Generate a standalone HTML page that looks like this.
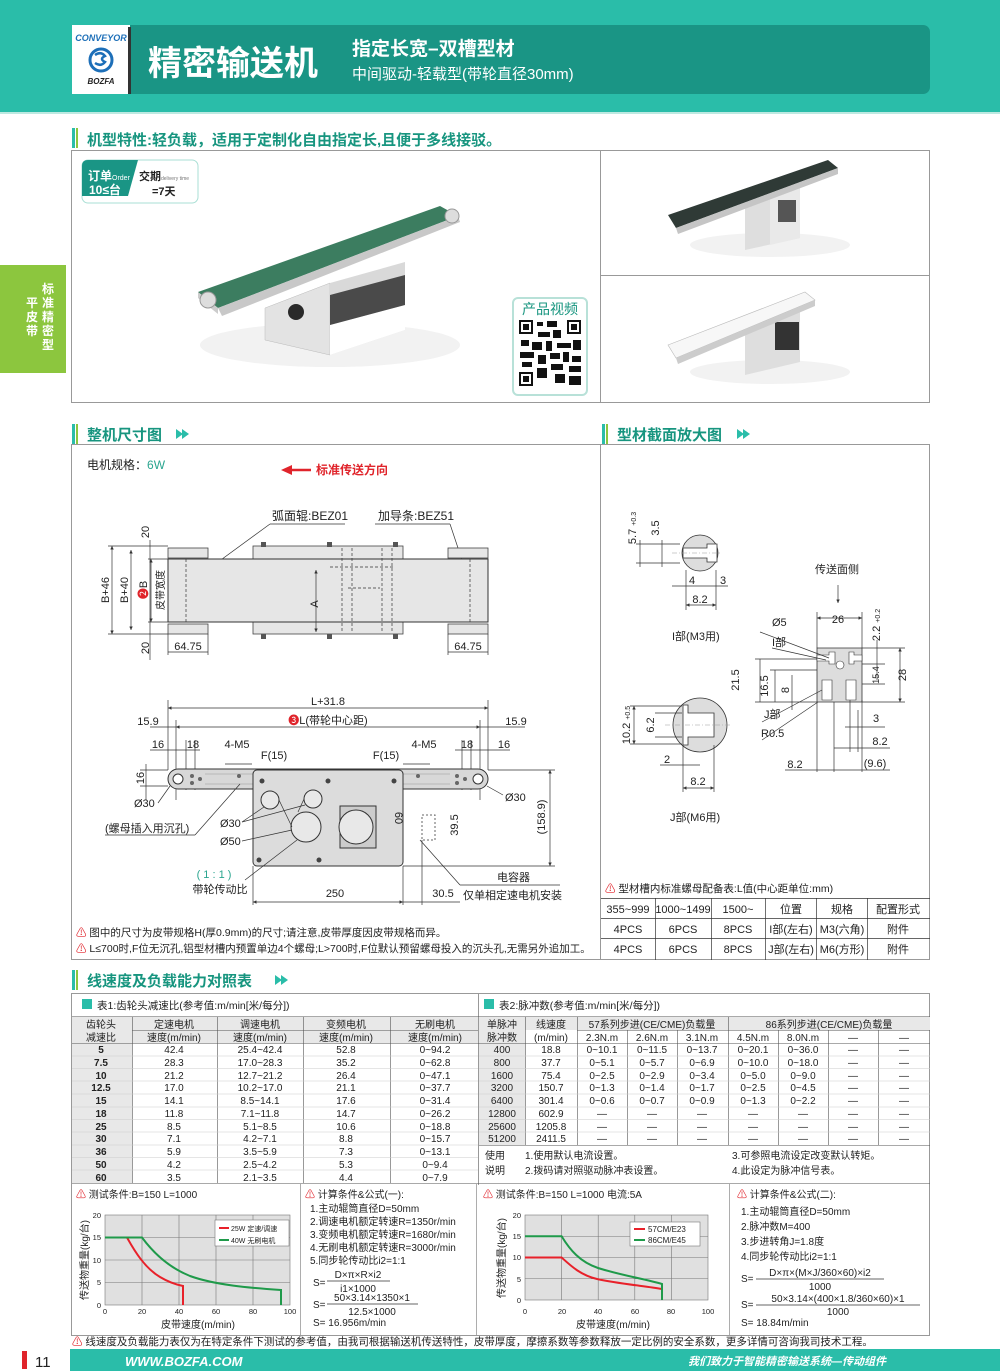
<!DOCTYPE html>
<html><head><meta charset="utf-8"><style>
html,body{margin:0;padding:0;background:#fff}
svg{display:block}
text{font-family:"Liberation Sans","Noto Sans CJK SC",sans-serif;fill:#222}
.d{font-size:11px}
.t{font-size:10px}
.c{text-anchor:middle}
.ln{stroke:#333;stroke-width:.7;fill:none}
.g{stroke:#999;stroke-width:.6;fill:none}
.h{font-size:15px;font-weight:bold;fill:#17957f}
</style></head><body>
<svg width="1000" height="1371" viewBox="0 0 1000 1371" xmlns="http://www.w3.org/2000/svg">
<defs>
<marker id="a" viewBox="0 0 6 6" refX="6" refY="3" markerWidth="5" markerHeight="5" orient="auto-start-reverse"><path d="M0,0L6,3L0,6z" fill="#333"/></marker>
</defs>
<!-- header -->
<rect x="0" y="0" width="1000" height="112" fill="#2abda9"/>
<rect x="0" y="112" width="1000" height="2" fill="#bde9e1"/>
<rect x="72" y="25" width="858" height="69" rx="7" fill="#1a9585"/>
<rect x="72" y="25" width="58" height="69" fill="#fff"/>
<rect x="128" y="27" width="3" height="67" fill="#333"/>
<text x="101" y="41" class="c" style="font-size:9px;font-weight:bold;font-style:italic;fill:#1d6fb8">CONVEYOR</text>
<circle cx="101" cy="60" r="11" fill="none" stroke="#1d6fb8" stroke-width="3"/>
<path d="M95,55 q6,-4 10,1 q-6,3 0,6 q-4,5 -10,1" fill="none" stroke="#1d6fb8" stroke-width="2.5"/>
<text x="101" y="84" class="c" style="font-size:8px;font-weight:bold;font-style:italic;fill:#222">BOZFA</text>
<text x="148" y="75" style="font-size:34px;font-weight:bold;fill:#fff">精密输送机</text>
<text x="352" y="55" style="font-size:19px;font-weight:bold;fill:#fff">指定长宽–双槽型材</text>
<text x="352" y="79" style="font-size:15px;fill:#fff">中间驱动-轻载型(带轮直径30mm)</text>
<!-- side tab -->
<rect x="0" y="265" width="66" height="108" fill="#8cc63e"/>
<text x="48" y="293" class="c" style="font-size:12px;font-weight:bold;fill:#fff">标</text>
<text x="48" y="307" class="c" style="font-size:12px;font-weight:bold;fill:#fff">准</text>
<text x="48" y="321" class="c" style="font-size:12px;font-weight:bold;fill:#fff">精</text>
<text x="48" y="335" class="c" style="font-size:12px;font-weight:bold;fill:#fff">密</text>
<text x="48" y="349" class="c" style="font-size:12px;font-weight:bold;fill:#fff">型</text>
<text x="32" y="307" class="c" style="font-size:12px;font-weight:bold;fill:#fff">平</text>
<text x="32" y="321" class="c" style="font-size:12px;font-weight:bold;fill:#fff">皮</text>
<text x="32" y="335" class="c" style="font-size:12px;font-weight:bold;fill:#fff">带</text>
<!-- section 1 -->
<rect x="72" y="128" width="3" height="20" fill="#2abda9"/><rect x="76" y="128" width="2" height="20" fill="#8cc63e"/>
<text x="87" y="145" class="h">机型特性:轻负载，适用于定制化自由指定长,且便于多线接驳。</text>
<rect x="71.5" y="150.5" width="858" height="252" fill="#fff" stroke="#999"/>
<line x1="600.5" y1="150" x2="600.5" y2="402" stroke="#999"/>
<line x1="600" y1="275.5" x2="930" y2="275.5" stroke="#999"/>
<!-- badge -->
<rect x="82" y="160" width="116" height="43" rx="6" fill="#fff" stroke="#aadfd5"/>
<path d="M82,166 q0,-6 6,-6 h50 l-10,36 h-46z" fill="#1a9585"/>
<text x="88" y="180" style="font-size:12px;font-weight:bold;fill:#fff">订单<tspan style="font-size:7px;font-weight:normal">Order</tspan></text>
<text x="89" y="194" style="font-size:12px;font-weight:bold;fill:#fff">10≤台</text>
<text x="139" y="180" style="font-size:11px;font-weight:bold">交期<tspan style="font-size:5px;font-weight:normal;fill:#777">delivery time</tspan></text>
<text x="152" y="195" style="font-size:11px;font-weight:bold">=7天</text>
<!-- main product -->
<ellipse cx="330" cy="345" rx="130" ry="22" fill="#f2f2f2"/>
<polygon points="265,308 330,283 330,355 265,340" fill="#e3e3e3" stroke="#bbb" stroke-width=".5"/>
<polygon points="330,283 405,262 405,330 330,355" fill="#d9d9d9"/>
<polygon points="330,325 405,305 405,330 330,355" fill="#fff"/>
<polygon points="330,295 405,275 405,305 330,325" fill="#4a4a4a"/>
<circle cx="296" cy="312" r="8" fill="#2a2a2a"/>
<polygon points="198,292 440,206 458,216 218,308" fill="#3c7d60"/>
<polygon points="198,292 218,308 218,314 198,298" fill="#ccc"/>
<polygon points="218,308 458,216 460,222 222,316" fill="#c8c8c8"/>
<circle cx="208" cy="300" r="8" fill="#ddd" stroke="#999"/><circle cx="452" cy="216" r="7" fill="#ddd" stroke="#999"/>
<!-- QR -->
<rect x="513" y="298" width="74" height="97" rx="5" fill="#fff" stroke="#b8e1d8" stroke-width="2"/>
<text x="550" y="314" class="c" style="font-size:14px;fill:#17957f">产品视频</text>
<rect x="519" y="320" width="62" height="66" fill="#fff"/>
<g fill="#111">
<rect x="519" y="320" width="14" height="14"/><rect x="567" y="320" width="14" height="14"/><rect x="519" y="372" width="14" height="14"/>
<rect x="537" y="322" width="6" height="4"/><rect x="547" y="321" width="10" height="6"/><rect x="538" y="332" width="12" height="5"/><rect x="553" y="330" width="8" height="8"/>
<rect x="521" y="340" width="8" height="6"/><rect x="532" y="342" width="10" height="8"/><rect x="546" y="341" width="6" height="10"/><rect x="557" y="343" width="14" height="5"/><rect x="573" y="340" width="8" height="10"/>
<rect x="520" y="352" width="14" height="6"/><rect x="538" y="355" width="8" height="9"/><rect x="550" y="353" width="10" height="6"/><rect x="563" y="352" width="6" height="10"/><rect x="572" y="356" width="9" height="6"/>
<rect x="522" y="362" width="10" height="5"/><rect x="537" y="368" width="10" height="10"/><rect x="551" y="364" width="12" height="6"/><rect x="555" y="374" width="10" height="9"/><rect x="569" y="366" width="12" height="6"/><rect x="569" y="376" width="12" height="9"/>
</g>
<g fill="#fff"><rect x="521" y="322" width="10" height="10"/><rect x="569" y="322" width="10" height="10"/><rect x="521" y="374" width="10" height="10"/></g>
<g fill="#111"><rect x="523" y="324" width="6" height="6"/><rect x="571" y="324" width="6" height="6"/><rect x="523" y="376" width="6" height="6"/></g>
<!-- right images -->
<ellipse cx="770" cy="245" rx="80" ry="12" fill="#f2f2f2"/>
<polygon points="745,195 800,180 800,238 745,250" fill="#dedede"/>
<polygon points="770,188 800,180 800,238 770,245" fill="#e9e9e9"/>
<rect x="778" y="200" width="18" height="22" fill="#555"/>
<polygon points="668,215 828,160 838,168 676,228" fill="#2f3a36"/>
<polygon points="676,228 838,168 838,174 678,234" fill="#c5c5c5"/>
<ellipse cx="770" cy="372" rx="80" ry="12" fill="#f2f2f2"/>
<polygon points="745,318 800,300 800,362 745,375" fill="#dedede"/>
<rect x="775" y="322" width="24" height="28" fill="#333"/>
<polygon points="668,345 805,292 815,300 676,358" fill="#f7f7f7" stroke="#bbb" stroke-width=".6"/>
<polygon points="676,358 815,300 815,306 678,364" fill="#ccc"/>

<!-- section 2 -->
<rect x="72" y="424" width="3" height="20" fill="#2abda9"/><rect x="76" y="424" width="2" height="20" fill="#8cc63e"/>
<text x="87" y="440" class="h">整机尺寸图</text>
<polygon points="176,429 183,434 176,439" fill="#2abda9"/><polygon points="182,429 189,434 182,439" fill="#2abda9"/>
<rect x="602" y="424" width="3" height="20" fill="#2abda9"/><rect x="606" y="424" width="2" height="20" fill="#8cc63e"/>
<text x="617" y="440" class="h">型材截面放大图</text>
<polygon points="737,429 744,434 737,439" fill="#2abda9"/><polygon points="743,429 750,434 743,439" fill="#2abda9"/>
<rect x="71.5" y="444.5" width="858" height="515" fill="none" stroke="#999"/>
<line x1="600.5" y1="444" x2="600.5" y2="960" stroke="#999"/>

<text x="87" y="469" style="font-size:12px">电机规格：<tspan style="fill:#2aa58f">6W</tspan></text>
<line x1="290" y1="470" x2="311" y2="470" stroke="#e0242b" stroke-width="2.5"/><polygon points="281,470 292,465 292,475" fill="#e0242b"/>
<text x="316" y="474" style="font-size:12px;font-weight:bold;fill:#e0242b">标准传送方向</text>
<!-- top view -->
<text x="272" y="520" style="font-size:12px">弧面辊:BEZ01</text><line x1="270" y1="524" x2="345" y2="524" class="ln"/><line x1="270" y1="524" x2="188" y2="584" class="ln"/>
<text x="378" y="520" style="font-size:12px">加导条:BEZ51</text><line x1="375" y1="524" x2="450" y2="524" class="ln"/><line x1="450" y1="524" x2="472" y2="590" class="ln"/>
<rect x="168" y="548" width="40" height="10" fill="#e6e6e6" stroke="#444" stroke-width=".8"/>
<rect x="448" y="548" width="40" height="10" fill="#e6e6e6" stroke="#444" stroke-width=".8"/>
<rect x="168" y="624" width="40" height="10" fill="#e6e6e6" stroke="#444" stroke-width=".8"/>
<rect x="448" y="624" width="40" height="10" fill="#e6e6e6" stroke="#444" stroke-width=".8"/>
<rect x="253" y="546" width="150" height="13" fill="#e6e6e6" stroke="#444" stroke-width=".8"/>
<rect x="253" y="622" width="150" height="12" fill="#e6e6e6" stroke="#444" stroke-width=".8"/>
<rect x="168" y="559" width="320" height="63" fill="#e6e6e6" stroke="#333" stroke-width="1"/>
<line x1="186" y1="559" x2="186" y2="622" class="ln" stroke-dasharray="3,2"/><line x1="470" y1="559" x2="470" y2="622" class="ln" stroke-dasharray="3,2"/>
<g class="ln" stroke-dasharray="3,2"><line x1="342" y1="548" x2="342" y2="632"/><line x1="352" y1="548" x2="352" y2="632"/><line x1="382" y1="548" x2="382" y2="632"/><line x1="392" y1="548" x2="392" y2="632"/><line x1="330" y1="567" x2="395" y2="567"/><line x1="348" y1="588" x2="380" y2="588"/></g>
<g fill="#555"><rect x="261" y="542" width="5" height="5"/><rect x="327" y="542" width="5" height="5"/><rect x="393" y="542" width="5" height="5"/><rect x="261" y="634" width="5" height="5"/><rect x="327" y="634" width="5" height="5"/><rect x="393" y="634" width="5" height="5"/></g>
<line x1="316" y1="570" x2="316" y2="632" class="ln" marker-start="url(#a)" marker-end="url(#a)"/>
<text transform="translate(318,604) rotate(-90)" class="d c">A</text>
<g class="ln"><line x1="112" y1="546" x2="112" y2="634" marker-start="url(#a)" marker-end="url(#a)"/><line x1="131" y1="550" x2="131" y2="630" marker-start="url(#a)" marker-end="url(#a)"/><line x1="151" y1="559" x2="151" y2="622" marker-start="url(#a)" marker-end="url(#a)"/>
<line x1="108" y1="546" x2="168" y2="546"/><line x1="108" y1="634" x2="168" y2="634"/><line x1="150" y1="540" x2="150" y2="660"/><line x1="148" y1="559" x2="168" y2="559"/><line x1="148" y1="622" x2="168" y2="622"/></g>
<text transform="translate(112,590) rotate(-90)" class="d c" dy="-3">B+46</text>
<text transform="translate(131,590) rotate(-90)" class="d c" dy="-3">B+40</text>
<text transform="translate(150,590) rotate(-90)" class="d c" dy="-3"><tspan style="fill:#e0242b">❷</tspan>B</text>
<text transform="translate(164,590) rotate(-90)" class="c" style="font-size:10px">皮带宽度</text>
<text transform="translate(149,532) rotate(-90)" class="d c">20</text>
<text transform="translate(149,648) rotate(-90)" class="d c">20</text>
<g class="ln"><line x1="168" y1="634" x2="168" y2="655"/><line x1="208" y1="634" x2="208" y2="655"/><line x1="448" y1="634" x2="448" y2="655"/><line x1="488" y1="634" x2="488" y2="655"/><line x1="168" y1="652" x2="208" y2="652"/><line x1="448" y1="652" x2="488" y2="652"/></g>
<text x="188" y="650" class="d c">64.75</text><text x="468" y="650" class="d c">64.75</text>
<!-- side view -->
<g class="ln"><line x1="168" y1="708" x2="488" y2="708" marker-start="url(#a)" marker-end="url(#a)"/><line x1="176" y1="727" x2="480" y2="727" marker-start="url(#a)" marker-end="url(#a)"/>
<line x1="168" y1="700" x2="168" y2="770"/><line x1="488" y1="700" x2="488" y2="770"/><line x1="176" y1="720" x2="176" y2="800"/><line x1="480" y1="720" x2="480" y2="800"/>
<line x1="150" y1="727" x2="176" y2="727"/><line x1="480" y1="727" x2="525" y2="727"/>
<line x1="150" y1="750" x2="200" y2="750"/><line x1="186" y1="740" x2="186" y2="790"/><line x1="195" y1="740" x2="195" y2="790"/>
<line x1="455" y1="750" x2="510" y2="750"/><line x1="462" y1="740" x2="462" y2="790"/><line x1="471" y1="740" x2="471" y2="790"/>
<line x1="225" y1="764" x2="252" y2="764"/><line x1="403" y1="764" x2="430" y2="764"/>
<line x1="146" y1="764" x2="146" y2="800"/><line x1="140" y1="770" x2="168" y2="770"/><line x1="140" y1="786" x2="168" y2="786"/>
<line x1="488" y1="770" x2="555" y2="770"/><line x1="403" y1="866" x2="555" y2="866"/><line x1="550" y1="770" x2="550" y2="866" marker-start="url(#a)" marker-end="url(#a)"/>
<line x1="253" y1="866" x2="253" y2="905"/><line x1="403" y1="866" x2="403" y2="905"/><line x1="422" y1="840" x2="422" y2="905"/><line x1="253" y1="902" x2="403" y2="902" marker-start="url(#a)" marker-end="url(#a)"/><line x1="403" y1="902" x2="460" y2="902"/>
</g>
<text x="328" y="705" class="d c">L+31.8</text>
<text x="328" y="724" class="d c"><tspan style="fill:#e0242b">❸</tspan>L(带轮中心距)</text>
<text x="148" y="725" class="d c">15.9</text><text x="516" y="725" class="d c">15.9</text>
<text x="158" y="748" class="d c">16</text><text x="193" y="748" class="d c">18</text><text x="237" y="748" class="d c">4-M5</text>
<text x="274" y="759" class="d c">F(15)</text><text x="386" y="759" class="d c">F(15)</text>
<text x="424" y="748" class="d c">4-M5</text><text x="467" y="748" class="d c">18</text><text x="504" y="748" class="d c">16</text>
<rect x="168" y="769" width="320" height="20" rx="10" fill="#d8d8d8" stroke="#333"/>
<line x1="205" y1="774" x2="450" y2="774" class="g"/><line x1="205" y1="784" x2="450" y2="784" class="g"/>
<circle cx="178" cy="779" r="5" fill="#fff" stroke="#333"/><circle cx="478" cy="779" r="5" fill="#fff" stroke="#333"/>
<g fill="#666"><circle cx="192" cy="776" r="2"/><circle cx="192" cy="783" r="2"/><circle cx="200" cy="779" r="2"/><circle cx="457" cy="776" r="2"/><circle cx="457" cy="783" r="2"/><circle cx="465" cy="779" r="2"/><circle cx="239" cy="776" r="2"/><circle cx="418" cy="776" r="2"/></g>
<rect x="253" y="770" width="150" height="96" rx="4" fill="#dcdcdc" stroke="#333"/>
<g fill="#444"><circle cx="262" cy="781" r="2.5"/><circle cx="328" cy="781" r="2.5"/><circle cx="394" cy="781" r="2.5"/><circle cx="259" cy="860" r="2.5"/><circle cx="319" cy="860" r="2.5"/></g>
<circle cx="270" cy="800" r="9" fill="#e8e8e8" stroke="#333"/><circle cx="313" cy="799" r="9" fill="#e8e8e8" stroke="#333"/>
<circle cx="306" cy="827" r="15" fill="#e8e8e8" stroke="#333"/>
<rect x="340" y="806" width="36" height="42" fill="#ccc" stroke="#333"/><circle cx="356" cy="827" r="17" fill="#e8e8e8" stroke="#333"/>
<path d="M279,800 L292,827 M304,799 L298,812" class="ln"/>
<rect x="422" y="815" width="13" height="25" fill="none" stroke="#666" stroke-dasharray="2,2"/>
<text transform="translate(395,818) rotate(90)" class="d c">60</text>
<text transform="translate(458,825) rotate(-90)" class="d c">39.5</text>
<text transform="translate(545,817) rotate(-90)" class="d c">(158.9)</text>
<text transform="translate(144,778) rotate(-90)" class="d c">16</text>
<text x="134" y="807" class="d">Ø30</text><line x1="158" y1="803" x2="170" y2="786" class="ln"/>
<text x="105" y="832" class="d">(螺母插入用沉孔)</text><line x1="105" y1="835" x2="195" y2="835" class="ln"/><line x1="195" y1="835" x2="240" y2="784" class="ln"/>
<text x="220" y="827" class="d">Ø30</text><line x1="242" y1="822" x2="264" y2="807" class="ln"/><line x1="242" y1="822" x2="305" y2="805" class="ln"/>
<text x="220" y="845" class="d">Ø50</text><line x1="242" y1="841" x2="292" y2="830" class="ln"/>
<text x="214" y="878" class="d c" style="fill:#2aa58f">( 1 : 1 )</text>
<text x="220" y="893" class="d c">带轮传动比</text><line x1="245" y1="880" x2="297" y2="840" class="ln"/>
<text x="335" y="897" class="d c">250</text><text x="443" y="897" class="d c">30.5</text>
<text x="497" y="881" class="d">电容器</text><line x1="460" y1="885" x2="560" y2="885" class="ln"/><line x1="460" y1="885" x2="420" y2="840" class="ln"/>
<text x="463" y="899" class="d">仅单相定速电机安装</text>
<text x="505" y="801" class="d">Ø30</text><line x1="503" y1="795" x2="487" y2="786" class="ln"/>
<!-- notes -->
<text x="76" y="936" style="font-size:10.5px"><tspan style="fill:#e0242b">⚠</tspan> 图中的尺寸为皮带规格H(厚0.9mm)的尺寸;请注意,皮带厚度因皮带规格而异。</text>
<text x="76" y="952" style="font-size:10.5px"><tspan style="fill:#e0242b">⚠</tspan> L≤700时,F位无沉孔,铝型材槽内预置单边4个螺母;L&gt;700时,F位默认预留螺母投入的沉头孔,无需另外追加工。</text>

<!-- profile detail -->
<circle cx="700" cy="553" r="18" fill="#ddd" stroke="#333" stroke-width=".8"/>
<path d="M683,548 h24 v-4 h10 v18 h-10 v-4 h-24z" fill="#fff" stroke="#333" stroke-width=".8"/>
<line x1="672" y1="553" x2="722" y2="553" class="g" stroke-dasharray="5,2,1,2"/>
<g class="ln"><line x1="636" y1="544" x2="680" y2="544"/><line x1="636" y1="563" x2="680" y2="563"/><line x1="640" y1="540" x2="640" y2="567"/><line x1="662" y1="540" x2="662" y2="567"/><line x1="686" y1="570" x2="686" y2="610"/><line x1="716" y1="570" x2="716" y2="610"/><line x1="686" y1="605" x2="716" y2="605" marker-start="url(#a)" marker-end="url(#a)"/><line x1="672" y1="586" x2="728" y2="586"/></g>
<text transform="translate(636,528) rotate(-90)" class="d c">5.7 <tspan style="font-size:7px">+0.3</tspan></text>
<text transform="translate(659,528) rotate(-90)" class="d c">3.5</text>
<text x="692" y="584" class="d c">4</text><text x="723" y="584" class="d c">3</text><text x="700" y="603" class="d c">8.2</text>
<text x="672" y="640" class="d">I部(M3用)</text>
<circle cx="700" cy="725" r="27" fill="#ddd" stroke="#333" stroke-width=".8"/>
<path d="M683,705 h5 v8 h26 v24 h-26 v8 h-5z" fill="#fff" stroke="#333" stroke-width=".8"/>
<line x1="665" y1="725" x2="730" y2="725" class="g" stroke-dasharray="5,2,1,2"/>
<g class="ln"><line x1="630" y1="706" x2="682" y2="706"/><line x1="630" y1="744" x2="682" y2="744"/><line x1="634" y1="706" x2="634" y2="744" marker-start="url(#a)" marker-end="url(#a)"/><line x1="655" y1="713" x2="682" y2="713"/><line x1="655" y1="737" x2="682" y2="737"/><line x1="683" y1="745" x2="683" y2="792"/><line x1="714" y1="745" x2="714" y2="792"/><line x1="683" y1="788" x2="714" y2="788" marker-start="url(#a)" marker-end="url(#a)"/><line x1="660" y1="765" x2="700" y2="765"/></g>
<text transform="translate(632,725) rotate(-90)" class="d c" dy="-2">10.2 <tspan style="font-size:7px">+0.5</tspan></text>
<text transform="translate(656,725) rotate(-90)" class="d c" dy="-2">6.2</text>
<text x="667" y="763" class="d c">2</text><text x="698" y="785" class="d c">8.2</text>
<text x="670" y="821" class="d">J部(M6用)</text>
<text x="815" y="573" class="d">传送面侧</text><line x1="838" y1="585" x2="838" y2="603" class="ln" marker-end="url(#a)"/>
<path d="M817,648 h45 v54 h-45z" fill="#ddd" stroke="#333" stroke-width=".8"/>
<g fill="#fff" stroke="#333" stroke-width=".6"><path d="M817,655 h12 v-3 h6 v12 h-6 v-3 h-12z"/><path d="M862,655 h-8 v-3 h-5 v12 h5 v-3 h8z"/><path d="M822,680 h10 v20 h-10z"/><path d="M846,680 h10 v20 h-10z"/><circle cx="840" cy="665" r="4"/></g>
<g class="ln"><line x1="817" y1="618" x2="862" y2="618" marker-start="url(#a)" marker-end="url(#a)"/><line x1="817" y1="612" x2="817" y2="648"/><line x1="862" y1="612" x2="862" y2="648"/><line x1="862" y1="648" x2="905" y2="648"/><line x1="862" y1="702" x2="905" y2="702"/><line x1="900" y1="648" x2="900" y2="702" marker-start="url(#a)" marker-end="url(#a)"/>
<line x1="755" y1="659" x2="817" y2="659"/><line x1="755" y1="702" x2="817" y2="702"/><line x1="760" y1="659" x2="760" y2="702"/><line x1="770" y1="670" x2="817" y2="670"/><line x1="775" y1="670" x2="775" y2="702"/><line x1="792" y1="675" x2="792" y2="710"/>
<line x1="877" y1="640" x2="877" y2="680" /><line x1="862" y1="664" x2="885" y2="664"/><line x1="862" y1="684" x2="885" y2="684"/>
<line x1="817" y1="702" x2="817" y2="772"/><line x1="834" y1="702" x2="834" y2="772"/><line x1="850" y1="700" x2="850" y2="752"/><line x1="858" y1="710" x2="858" y2="752"/><line x1="862" y1="700" x2="862" y2="772"/>
<line x1="845" y1="727" x2="885" y2="727"/><line x1="834" y1="748" x2="890" y2="748"/><line x1="785" y1="770" x2="890" y2="770"/>
<line x1="760" y1="632" x2="829" y2="658"/><line x1="772" y1="648" x2="826" y2="660"/><line x1="762" y1="722" x2="822" y2="690"/><line x1="762" y1="740" x2="818" y2="702"/></g>
<text x="838" y="623" class="d c">26</text><text x="772" y="626" class="d">Ø5</text><text x="772" y="646" class="d">I部</text>
<text transform="translate(739,680) rotate(-90)" class="d c">21.5</text><text transform="translate(768,686) rotate(-90)" class="d c">16.5</text><text transform="translate(789,690) rotate(-90)" class="d c">8</text>
<text x="764" y="718" class="d">J部</text><text x="761" y="737" class="d">R0.5</text>
<text x="876" y="722" class="d c">3</text><text x="880" y="745" class="d c">8.2</text><text x="795" y="768" class="d c">8.2</text><text x="875" y="767" class="d c">(9.6)</text>
<text transform="translate(906,675) rotate(-90)" class="d c">28</text>
<text transform="translate(879,675) rotate(-90)" class="c" style="font-size:9px">15.4</text>
<text transform="translate(880,625) rotate(-90)" class="d c">2.2 <tspan style="font-size:7px">+0.2</tspan></text>
<!-- nut table -->
<text x="605" y="892" style="font-size:10.5px"><tspan style="fill:#e0242b">⚠</tspan> 型材槽内标准螺母配备表:L值(中心距单位:mm)</text>
<g class="ln" stroke="#666"><line x1="601" y1="898.5" x2="930" y2="898.5"/><line x1="601" y1="918.5" x2="930" y2="918.5"/><line x1="601" y1="938.5" x2="930" y2="938.5"/>
<line x1="655.5" y1="898" x2="655.5" y2="960"/><line x1="711.5" y1="898" x2="711.5" y2="960"/><line x1="765.5" y1="898" x2="765.5" y2="960"/><line x1="816.5" y1="898" x2="816.5" y2="960"/><line x1="867.5" y1="898" x2="867.5" y2="960"/></g>
<text y="913" class="d c"><tspan x="628">355~999</tspan><tspan x="683">1000~1499</tspan><tspan x="738">1500~</tspan><tspan x="791">位置</tspan><tspan x="842">规格</tspan><tspan x="898">配置形式</tspan></text>
<text y="933" class="d c"><tspan x="628">4PCS</tspan><tspan x="683">6PCS</tspan><tspan x="738">8PCS</tspan><tspan x="791">I部(左右)</tspan><tspan x="842">M3(六角)</tspan><tspan x="898">附件</tspan></text>
<text y="953" class="d c"><tspan x="628">4PCS</tspan><tspan x="683">6PCS</tspan><tspan x="738">8PCS</tspan><tspan x="791">J部(左右)</tspan><tspan x="842">M6(方形)</tspan><tspan x="898">附件</tspan></text>

<!-- section 3 -->
<rect x="72" y="970" width="3" height="20" fill="#2abda9"/><rect x="76" y="970" width="2" height="20" fill="#8cc63e"/>
<text x="87" y="986" class="h">线速度及负载能力对照表</text>
<polygon points="275,975 282,980 275,985" fill="#2abda9"/><polygon points="281,975 288,980 281,985" fill="#2abda9"/>
<rect x="71.5" y="993.5" width="858" height="342" fill="none" stroke="#999"/>
<line x1="478.5" y1="993" x2="478.5" y2="1185" stroke="#999"/>
<rect x="82" y="999" width="10" height="10" fill="#2abda9"/><rect x="484" y="999" width="10" height="10" fill="#2abda9"/>
<text x="97" y="1009" style="font-size:10.5px">表1:齿轮头减速比(参考值:m/min[米/每分])</text>
<text x="499" y="1009" style="font-size:10.5px">表2:脉冲数(参考值:m/min[米/每分])</text>
<rect x="72" y="1017" width="406" height="26" fill="#e8e8e8"/><rect x="72" y="1043" width="60" height="140" fill="#e8e8e8"/>
<rect x="479" y="1017" width="451" height="13" fill="#e8e8e8"/><rect x="479" y="1030" width="46" height="115" fill="#e8e8e8"/>
<g stroke="#555" stroke-width=".6">
<line x1="72" y1="1016.5" x2="930" y2="1016.5"/><line x1="132" y1="1030.5" x2="478" y2="1030.5"/><line x1="577" y1="1030.5" x2="930" y2="1030.5"/>
<line x1="72" y1="1043.5" x2="930" y2="1043.5"/>
<line x1="72" y1="1183.5" x2="930" y2="1183.5"/><line x1="479" y1="1145.5" x2="930" y2="1145.5"/>
<line x1="132.5" y1="1017" x2="132.5" y2="1183"/><line x1="217.5" y1="1017" x2="217.5" y2="1183"/><line x1="303.5" y1="1017" x2="303.5" y2="1183"/><line x1="390.5" y1="1017" x2="390.5" y2="1183"/>
<line x1="525.5" y1="1017" x2="525.5" y2="1145"/><line x1="577.5" y1="1017" x2="577.5" y2="1145"/><line x1="627.5" y1="1030" x2="627.5" y2="1145"/><line x1="677.5" y1="1030" x2="677.5" y2="1145"/><line x1="728.5" y1="1017" x2="728.5" y2="1145"/><line x1="778.5" y1="1030" x2="778.5" y2="1145"/><line x1="828.5" y1="1030" x2="828.5" y2="1145"/><line x1="878.5" y1="1030" x2="878.5" y2="1145"/>
</g>
<g stroke="#ccc" stroke-width=".6"><line x1="72" y1="1056" x2="478" y2="1056"/><line x1="72" y1="1068.5" x2="478" y2="1068.5"/><line x1="72" y1="1081" x2="478" y2="1081"/><line x1="72" y1="1094" x2="478" y2="1094"/><line x1="72" y1="1107" x2="478" y2="1107"/><line x1="72" y1="1119.5" x2="478" y2="1119.5"/><line x1="72" y1="1132" x2="478" y2="1132"/><line x1="72" y1="1145" x2="478" y2="1145"/><line x1="72" y1="1157.5" x2="478" y2="1157.5"/><line x1="72" y1="1170" x2="478" y2="1170"/>
<line x1="479" y1="1056" x2="930" y2="1056"/><line x1="479" y1="1068.5" x2="930" y2="1068.5"/><line x1="479" y1="1081" x2="930" y2="1081"/><line x1="479" y1="1094" x2="930" y2="1094"/><line x1="479" y1="1107" x2="930" y2="1107"/><line x1="479" y1="1119.5" x2="930" y2="1119.5"/><line x1="479" y1="1132" x2="930" y2="1132"/></g>
<g class="t c">
<text y="1028"><tspan x="101">齿轮头</tspan><tspan x="174">定速电机</tspan><tspan x="260">调速电机</tspan><tspan x="346">变频电机</tspan><tspan x="435">无刷电机</tspan></text>
<text y="1041"><tspan x="101">减速比</tspan><tspan x="174">速度(m/min)</tspan><tspan x="260">速度(m/min)</tspan><tspan x="346">速度(m/min)</tspan><tspan x="435">速度(m/min)</tspan></text>
<text y="1053"><tspan x="101" font-weight="bold">5</tspan><tspan x="174">42.4</tspan><tspan x="260">25.4~42.4</tspan><tspan x="346">52.8</tspan><tspan x="435">0~94.2</tspan></text>
<text y="1066"><tspan x="101" font-weight="bold">7.5</tspan><tspan x="174">28.3</tspan><tspan x="260">17.0~28.3</tspan><tspan x="346">35.2</tspan><tspan x="435">0~62.8</tspan></text>
<text y="1079"><tspan x="101" font-weight="bold">10</tspan><tspan x="174">21.2</tspan><tspan x="260">12.7~21.2</tspan><tspan x="346">26.4</tspan><tspan x="435">0~47.1</tspan></text>
<text y="1091"><tspan x="101" font-weight="bold">12.5</tspan><tspan x="174">17.0</tspan><tspan x="260">10.2~17.0</tspan><tspan x="346">21.1</tspan><tspan x="435">0~37.7</tspan></text>
<text y="1104"><tspan x="101" font-weight="bold">15</tspan><tspan x="174">14.1</tspan><tspan x="260">8.5~14.1</tspan><tspan x="346">17.6</tspan><tspan x="435">0~31.4</tspan></text>
<text y="1117"><tspan x="101" font-weight="bold">18</tspan><tspan x="174">11.8</tspan><tspan x="260">7.1~11.8</tspan><tspan x="346">14.7</tspan><tspan x="435">0~26.2</tspan></text>
<text y="1130"><tspan x="101" font-weight="bold">25</tspan><tspan x="174">8.5</tspan><tspan x="260">5.1~8.5</tspan><tspan x="346">10.6</tspan><tspan x="435">0~18.8</tspan></text>
<text y="1142"><tspan x="101" font-weight="bold">30</tspan><tspan x="174">7.1</tspan><tspan x="260">4.2~7.1</tspan><tspan x="346">8.8</tspan><tspan x="435">0~15.7</tspan></text>
<text y="1155"><tspan x="101" font-weight="bold">36</tspan><tspan x="174">5.9</tspan><tspan x="260">3.5~5.9</tspan><tspan x="346">7.3</tspan><tspan x="435">0~13.1</tspan></text>
<text y="1168"><tspan x="101" font-weight="bold">50</tspan><tspan x="174">4.2</tspan><tspan x="260">2.5~4.2</tspan><tspan x="346">5.3</tspan><tspan x="435">0~9.4</tspan></text>
<text y="1181"><tspan x="101" font-weight="bold">60</tspan><tspan x="174">3.5</tspan><tspan x="260">2.1~3.5</tspan><tspan x="346">4.4</tspan><tspan x="435">0~7.9</tspan></text>
<text y="1028"><tspan x="502">单脉冲</tspan><tspan x="551">线速度</tspan><tspan x="652">57系列步进(CE/CME)负载量</tspan><tspan x="829">86系列步进(CE/CME)负载量</tspan></text>
<text y="1041"><tspan x="502">脉冲数</tspan><tspan x="551">(m/min)</tspan><tspan x="602">2.3N.m</tspan><tspan x="652">2.6N.m</tspan><tspan x="702">3.1N.m</tspan><tspan x="753">4.5N.m</tspan><tspan x="803">8.0N.m</tspan><tspan x="853">—</tspan><tspan x="904">—</tspan></text>
<text y="1053"><tspan x="502">400</tspan><tspan x="551">18.8</tspan><tspan x="602">0~10.1</tspan><tspan x="652">0~11.5</tspan><tspan x="702">0~13.7</tspan><tspan x="753">0~20.1</tspan><tspan x="803">0~36.0</tspan><tspan x="853">—</tspan><tspan x="904">—</tspan></text>
<text y="1066"><tspan x="502">800</tspan><tspan x="551">37.7</tspan><tspan x="602">0~5.1</tspan><tspan x="652">0~5.7</tspan><tspan x="702">0~6.9</tspan><tspan x="753">0~10.0</tspan><tspan x="803">0~18.0</tspan><tspan x="853">—</tspan><tspan x="904">—</tspan></text>
<text y="1079"><tspan x="502">1600</tspan><tspan x="551">75.4</tspan><tspan x="602">0~2.5</tspan><tspan x="652">0~2.9</tspan><tspan x="702">0~3.4</tspan><tspan x="753">0~5.0</tspan><tspan x="803">0~9.0</tspan><tspan x="853">—</tspan><tspan x="904">—</tspan></text>
<text y="1091"><tspan x="502">3200</tspan><tspan x="551">150.7</tspan><tspan x="602">0~1.3</tspan><tspan x="652">0~1.4</tspan><tspan x="702">0~1.7</tspan><tspan x="753">0~2.5</tspan><tspan x="803">0~4.5</tspan><tspan x="853">—</tspan><tspan x="904">—</tspan></text>
<text y="1104"><tspan x="502">6400</tspan><tspan x="551">301.4</tspan><tspan x="602">0~0.6</tspan><tspan x="652">0~0.7</tspan><tspan x="702">0~0.9</tspan><tspan x="753">0~1.3</tspan><tspan x="803">0~2.2</tspan><tspan x="853">—</tspan><tspan x="904">—</tspan></text>
<text y="1117"><tspan x="502">12800</tspan><tspan x="551">602.9</tspan><tspan x="602">—</tspan><tspan x="652">—</tspan><tspan x="702">—</tspan><tspan x="753">—</tspan><tspan x="803">—</tspan><tspan x="853">—</tspan><tspan x="904">—</tspan></text>
<text y="1130"><tspan x="502">25600</tspan><tspan x="551">1205.8</tspan><tspan x="602">—</tspan><tspan x="652">—</tspan><tspan x="702">—</tspan><tspan x="753">—</tspan><tspan x="803">—</tspan><tspan x="853">—</tspan><tspan x="904">—</tspan></text>
<text y="1142"><tspan x="502">51200</tspan><tspan x="551">2411.5</tspan><tspan x="602">—</tspan><tspan x="652">—</tspan><tspan x="702">—</tspan><tspan x="753">—</tspan><tspan x="803">—</tspan><tspan x="853">—</tspan><tspan x="904">—</tspan></text>
</g>
<text x="485" y="1159" class="t">使用</text><text x="485" y="1174" class="t">说明</text>
<text x="525" y="1159" class="t">1.使用默认电流设置。</text><text x="525" y="1174" class="t">2.拨码请对照驱动脉冲表设置。</text>
<text x="732" y="1159" class="t">3.可参照电流设定改变默认转矩。</text><text x="732" y="1174" class="t">4.此设定为脉冲信号表。</text>
<!-- charts row -->
<g stroke="#999" stroke-width=".8"><line x1="300.5" y1="1184" x2="300.5" y2="1335"/><line x1="476.5" y1="1184" x2="476.5" y2="1335"/><line x1="729.5" y1="1184" x2="729.5" y2="1335"/></g>
<text x="76" y="1198" class="t"><tspan style="fill:#e0242b">⚠</tspan> 测试条件:B=150   L=1000</text>
<text x="305" y="1198" class="t"><tspan style="fill:#e0242b">⚠</tspan> 计算条件&amp;公式(一):</text>
<text x="483" y="1198" class="t"><tspan style="fill:#e0242b">⚠</tspan> 测试条件:B=150   L=1000  电流:5A</text>
<text x="737" y="1198" class="t"><tspan style="fill:#e0242b">⚠</tspan> 计算条件&amp;公式(二):</text>
<!-- chart1 -->
<rect x="105" y="1215" width="185" height="90" fill="#e0e0e0"/>
<g stroke="#777" stroke-width=".6"><line x1="142" y1="1215" x2="142" y2="1305"/><line x1="179" y1="1215" x2="179" y2="1305"/><line x1="216" y1="1215" x2="216" y2="1305"/><line x1="253" y1="1215" x2="253" y2="1305"/><line x1="105" y1="1282.5" x2="290" y2="1282.5"/><line x1="105" y1="1260" x2="290" y2="1260"/><line x1="105" y1="1237.5" x2="290" y2="1237.5"/></g>
<rect x="105" y="1215" width="185" height="90" fill="none" stroke="#777" stroke-width=".6"/>
<path d="M105,1237.5 L127,1237.5 C135,1252 145,1268 160,1277 C170,1283 178,1285 183,1286 L183,1305" fill="none" stroke="#e8212a" stroke-width="2"/>
<path d="M105,1237.5 L142,1237.5 C155,1255 170,1268 190,1276 C215,1285 250,1288 281,1290 L281,1305" fill="none" stroke="#1f9a4a" stroke-width="2"/>
<rect x="215" y="1220" width="74" height="26" fill="#fff" stroke="#777" stroke-width=".6"/>
<line x1="219" y1="1228" x2="229" y2="1228" stroke="#e8212a" stroke-width="2"/><line x1="219" y1="1240" x2="229" y2="1240" stroke="#1f9a4a" stroke-width="2"/>
<text x="231" y="1231" style="font-size:7px">25W 定速/调速</text><text x="231" y="1243" style="font-size:7px">40W 无刷电机</text>
<g style="font-size:7.5px" text-anchor="end"><text x="101" y="1218">20</text><text x="101" y="1240">15</text><text x="101" y="1263">10</text><text x="101" y="1285">5</text><text x="101" y="1308">0</text></g>
<g style="font-size:7.5px" text-anchor="middle"><text x="105" y="1314">0</text><text x="142" y="1314">20</text><text x="179" y="1314">40</text><text x="216" y="1314">60</text><text x="253" y="1314">80</text><text x="290" y="1314">100</text></g>
<text x="198" y="1328" class="t c">皮带速度(m/min)</text>
<text transform="translate(88,1260) rotate(-90)" class="t c">传送物重量(kg/台)</text>
<!-- formula1 -->
<g class="t"><text x="310" y="1212">1.主动辊筒直径D=50mm</text><text x="310" y="1225">2.调速电机额定转速R=1350r/min</text><text x="310" y="1238">3.变频电机额定转速R=1680r/min</text><text x="310" y="1251">4.无刷电机额定转速R=3000r/min</text><text x="310" y="1264">5.同步轮传动比i2=1:1</text>
<text x="313" y="1286">S=</text><text x="358" y="1278" class="c">D×π×R×i2</text><line x1="327" y1="1281" x2="390" y2="1281" stroke="#333" stroke-width=".7"/><text x="358" y="1292" class="c">i1×1000</text>
<text x="313" y="1308">S=</text><text x="372" y="1301" class="c">50×3.14×1350×1</text><line x1="327" y1="1304" x2="418" y2="1304" stroke="#333" stroke-width=".7"/><text x="372" y="1315" class="c">12.5×1000</text>
<text x="313" y="1326">S= 16.956m/min</text></g>
<!-- chart2 -->
<rect x="525" y="1215" width="183" height="85" fill="#e0e0e0"/>
<g stroke="#777" stroke-width=".6"><line x1="561.6" y1="1215" x2="561.6" y2="1300"/><line x1="598.2" y1="1215" x2="598.2" y2="1300"/><line x1="634.8" y1="1215" x2="634.8" y2="1300"/><line x1="671.4" y1="1215" x2="671.4" y2="1300"/><line x1="525" y1="1278.75" x2="708" y2="1278.75"/><line x1="525" y1="1257.5" x2="708" y2="1257.5"/><line x1="525" y1="1236.25" x2="708" y2="1236.25"/></g>
<rect x="525" y="1215" width="183" height="85" fill="none" stroke="#777" stroke-width=".6"/>
<path d="M525,1257.5 L561.6,1257.5 C570,1265 580,1275 597,1279 C620,1284 645,1286 662,1289 L662,1300" fill="none" stroke="#e8212a" stroke-width="2"/>
<path d="M525,1236.25 L561.6,1236.25 C570,1250 580,1262 598,1268 C620,1275 645,1279 662,1284 L662,1300" fill="none" stroke="#1f9a4a" stroke-width="2"/>
<rect x="630" y="1222" width="70" height="24" fill="#fff" stroke="#777" stroke-width=".6"/>
<line x1="634" y1="1229" x2="645" y2="1229" stroke="#e8212a" stroke-width="2"/><line x1="634" y1="1240" x2="645" y2="1240" stroke="#1f9a4a" stroke-width="2"/>
<text x="648" y="1232" style="font-size:8px">57CM/E23</text><text x="648" y="1243" style="font-size:8px">86CM/E45</text>
<g style="font-size:7.5px" text-anchor="end"><text x="521" y="1218">20</text><text x="521" y="1239">15</text><text x="521" y="1260">10</text><text x="521" y="1282">5</text><text x="521" y="1303">0</text></g>
<g style="font-size:7.5px" text-anchor="middle"><text x="525" y="1314">0</text><text x="562" y="1314">20</text><text x="598" y="1314">40</text><text x="635" y="1314">60</text><text x="671" y="1314">80</text><text x="708" y="1314">100</text></g>
<text x="613" y="1328" class="t c">皮带速度(m/min)</text>
<text transform="translate(505,1258) rotate(-90)" class="t c">传送物重量(kg/台)</text>
<!-- formula2 -->
<g class="t"><text x="741" y="1215">1.主动辊筒直径D=50mm</text><text x="741" y="1230">2.脉冲数M=400</text><text x="741" y="1245">3.步进转角J=1.8度</text><text x="741" y="1260">4.同步轮传动比i2=1:1</text>
<text x="741" y="1282">S=</text><text x="820" y="1276" class="c">D×π×(M×J/360×60)×i2</text><line x1="756" y1="1279" x2="884" y2="1279" stroke="#333" stroke-width=".7"/><text x="820" y="1290" class="c">1000</text>
<text x="741" y="1308">S=</text><text x="838" y="1302" class="c">50×3.14×(400×1.8/360×60)×1</text><line x1="756" y1="1305" x2="920" y2="1305" stroke="#333" stroke-width=".7"/><text x="838" y="1315" class="c">1000</text>
<text x="741" y="1326">S= 18.84m/min</text></g>
<text x="72" y="1345" style="font-size:10.5px"><tspan style="fill:#e0242b">⚠</tspan> 线速度及负载能力表仅为在特定条件下测试的参考值，由我司根据输送机传送特性，皮带厚度，摩擦系数等参数释放一定比例的安全系数，更多详情可咨询我司技术工程。</text>
<!-- footer -->
<rect x="70" y="1349" width="930" height="22" fill="#2abda9"/>
<rect x="22" y="1351" width="5" height="18" fill="#e0242b"/>
<text x="35" y="1367" style="font-size:15px">11</text>
<text x="125" y="1366" style="font-size:13px;font-weight:bold;font-style:italic;fill:#fff">WWW.BOZFA.COM</text>
<text x="688" y="1365" style="font-size:11px;font-weight:bold;font-style:italic;fill:#fff">我们致力于智能精密输送系统—传动组件</text>
</svg>
</body></html>
